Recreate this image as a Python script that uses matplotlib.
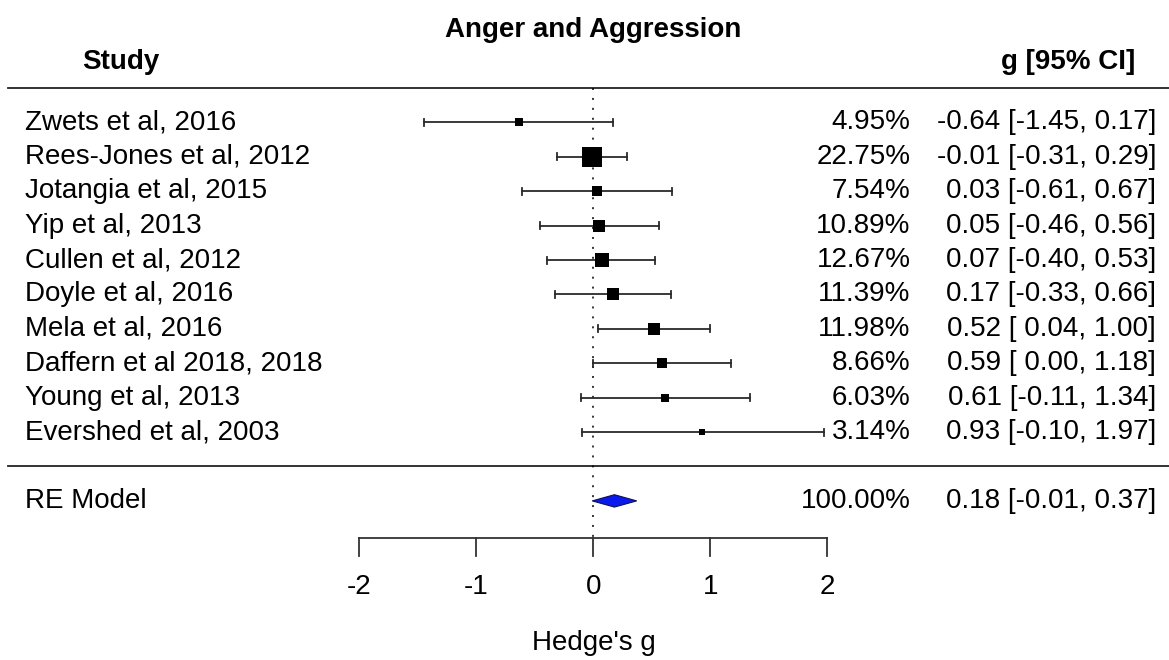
import matplotlib.pyplot as plt
from matplotlib.patches import Polygon

plt.rcParams['font.family'] = ['Liberation Sans', 'DejaVu Sans']

studies = ['Zwets et al, 2016', 'Rees-Jones et al, 2012', 'Jotangia et al, 2015',
           'Yip et al, 2013', 'Cullen et al, 2012', 'Doyle et al, 2016',
           'Mela et al, 2016', 'Daffern et al 2018, 2018', 'Young et al, 2013',
           'Evershed et al, 2003']
g = [-0.64, -0.01, 0.03, 0.05, 0.07, 0.17, 0.52, 0.59, 0.61, 0.93]
ci_lo = [-1.45, -0.31, -0.61, -0.46, -0.40, -0.33, 0.04, 0.00, -0.11, -0.10]
ci_hi = [0.17, 0.29, 0.67, 0.56, 0.53, 0.66, 1.00, 1.18, 1.34, 1.97]
weights = [4.95, 22.75, 7.54, 10.89, 12.67, 11.39, 11.98, 8.66, 6.03, 3.14]

re_g, re_lo, re_hi = 0.18, -0.01, 0.37
xticks = [-2, -1, 0, 1, 2]

fig = plt.figure(figsize=(11.69, 6.6), dpi=100)
ax = fig.add_axes([0, 0, 1, 1])
ax.set_xlim(-5.072, 4.92)
ax.set_ylim(16.625, -2.561)
ax.axis('off')

fs = 20
k = len(studies)
rows = list(range(1, k + 1))
re_row = k + 2


def ci_text(est, lo, hi):
    # lower bounds padded so the brackets line up like R's formatC output
    return f'{est:.2f} [{lo:5.2f}, {hi:.2f}]'


# header, top/bottom rules
ax.text(0, -1.69, 'Anger and Aggression', ha='center', va='center', fontsize=fs, fontweight='bold')
ax.text(-4.04, -0.76, 'Study', ha='center', va='center', fontsize=fs, fontweight='bold')
ax.text(4.63, -0.76, 'g [95% CI]', ha='right', va='center', fontsize=fs, fontweight='bold')
ax.plot([-5.0, 4.92], [0, 0], color='#222222', lw=1.3)
ax.plot([-5.0, 4.92], [k + 1, k + 1], color='#222222', lw=1.3)

# reference line at zero
ax.plot([0, 0], [0, 13.08], color='black', lw=1.1, dashes=(1.3, 5.2))

# study rows
wmin, wmax = min(weights), max(weights)
for r, name, est, lo, hi, w in zip(rows, studies, g, ci_lo, ci_hi, weights):
    ax.plot([lo, hi], [r, r], color='#2a2a2a', lw=1.3)
    ax.plot([lo, lo], [r - 0.1, r + 0.1], color='#2a2a2a', lw=1.3)
    ax.plot([hi, hi], [r - 0.1, r + 0.1], color='#2a2a2a', lw=1.3)
    psize = 0.5 + (w - wmin) / (wmax - wmin)
    ax.plot(est, r, marker='s', color='black', markersize=9.8 * psize, markeredgewidth=0)
    ax.text(-4.86, r, name, ha='left', va='center', fontsize=fs)
    ax.text(2.71, r, f'{w:.2f}%', ha='right', va='center', fontsize=fs)
    ax.text(4.81, r, ci_text(est, lo, hi), ha='right', va='center', fontsize=fs)

# pooled estimate
diamond = Polygon([(re_lo, re_row), (re_g, re_row - 0.18), (re_hi, re_row), (re_g, re_row + 0.18)],
                  closed=True, facecolor='#0a1aee', edgecolor='#101050', lw=0.8)
ax.add_patch(diamond)
ax.text(-4.86, re_row, 'RE Model', ha='left', va='center', fontsize=fs)
ax.text(2.71, re_row, '100.00%', ha='right', va='center', fontsize=fs)
ax.text(4.81, re_row, ci_text(re_g, re_lo, re_hi), ha='right', va='center', fontsize=fs)

# x axis
axis_y = 13.08
ax.plot([xticks[0], xticks[-1]], [axis_y, axis_y], color='#333333', lw=1.3)
for t in xticks:
    ax.plot([t, t], [axis_y, axis_y + 0.52], color='#333333', lw=1.3)
    ax.text(t, axis_y + 1.42, f'{t}', ha='center', va='center', fontsize=fs)
ax.text(0, 16.13, "Hedge's g", ha='center', va='center', fontsize=fs)

fig.savefig('out.png', dpi=100)
